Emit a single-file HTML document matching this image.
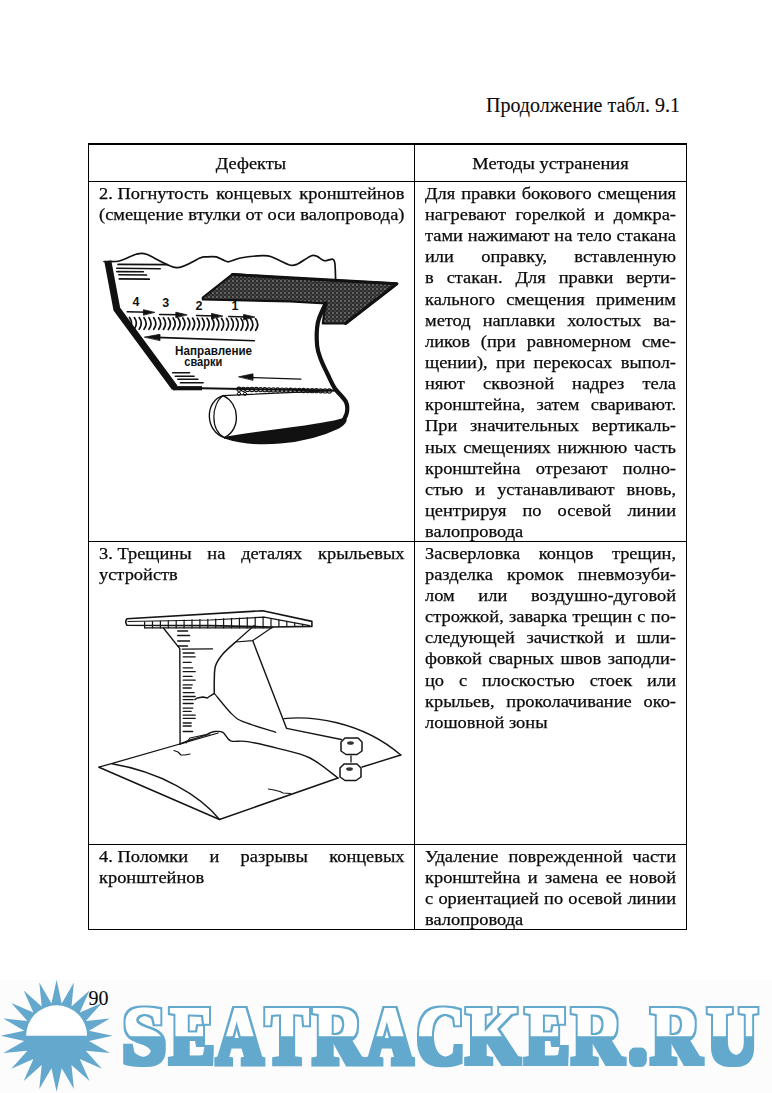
<!DOCTYPE html>
<html><head><meta charset="utf-8"><style>
html,body{margin:0;padding:0;background:#fff;}
#pg{position:relative;width:772px;height:1093px;overflow:hidden;background:#fff;font-family:"Liberation Serif",serif;color:#0a0a0a;-webkit-text-stroke:0.25px #0a0a0a;}
.t{position:absolute;font-size:17.0px;line-height:21px;height:21px;white-space:nowrap;transform:scaleX(1.0824);transform-origin:0 0;}
.u{transform:none;-webkit-text-stroke:0.1px #0a0a0a;}
.j{text-align:justify;text-align-last:justify;}
.l{text-align:left;}
.ib{display:inline-block;white-space:pre;}
.h{position:absolute;background:#000;}
svg{position:absolute;left:0;top:0;}
</style></head><body><div id="pg">
<div class="t u" style="font-size:20px;left:486px;top:95.00px;">Продолжение табл. 9.1</div>
<div class="h" style="left:88px;top:143px;width:599px;height:1.6px"></div>
<div class="h" style="left:88px;top:180.5px;width:599px;height:1.3px"></div>
<div class="h" style="left:88px;top:540.5px;width:599px;height:1.3px"></div>
<div class="h" style="left:88px;top:843.5px;width:599px;height:1.3px"></div>
<div class="h" style="left:88px;top:928.8px;width:599px;height:1.4px"></div>
<div class="h" style="left:87.6px;top:143px;width:1.5px;height:787px"></div>
<div class="h" style="left:414px;top:143px;width:1.4px;height:787px"></div>
<div class="h" style="left:685.6px;top:143px;width:1.5px;height:787px"></div>
<div class="t" style="left:88px;width:301.20px;text-align:center;top:152.50px">Дефекты</div>
<div class="t" style="left:415px;width:250.38px;text-align:center;top:152.50px">Методы устранения</div>
<div class="t j" style="left:98.5px;top:182.80px;width:282.26px"><span class="ib">2. Погнутость</span> концевых кронштейнов</div>
<div class="t j" style="left:98.5px;top:203.95px;width:282.26px">(смещение втулки от оси валопровода)</div>
<div class="t j" style="left:425px;top:182.80px;width:231.90px">Для правки бокового смещения</div>
<div class="t j" style="left:425px;top:203.95px;width:231.90px">нагревают горелкой и домкра-</div>
<div class="t j" style="left:425px;top:225.10px;width:231.90px">тами нажимают на тело стакана</div>
<div class="t j" style="left:425px;top:246.25px;width:231.90px">или оправку, вставленную</div>
<div class="t j" style="left:425px;top:267.40px;width:231.90px">в стакан. Для правки верти-</div>
<div class="t j" style="left:425px;top:288.55px;width:231.90px">кального смещения применим</div>
<div class="t j" style="left:425px;top:309.70px;width:231.90px">метод наплавки холостых ва-</div>
<div class="t j" style="left:425px;top:330.85px;width:231.90px">ликов (при равномерном сме-</div>
<div class="t j" style="left:425px;top:352.00px;width:231.90px">щении), при перекосах выпол-</div>
<div class="t j" style="left:425px;top:373.15px;width:231.90px">няют сквозной надрез тела</div>
<div class="t j" style="left:425px;top:394.30px;width:231.90px">кронштейна, затем сваривают.</div>
<div class="t j" style="left:425px;top:415.45px;width:231.90px">При значительных вертикаль-</div>
<div class="t j" style="left:425px;top:436.60px;width:231.90px">ных смещениях нижнюю часть</div>
<div class="t j" style="left:425px;top:457.75px;width:231.90px">кронштейна отрезают полно-</div>
<div class="t j" style="left:425px;top:478.90px;width:231.90px">стью и устанавливают вновь,</div>
<div class="t j" style="left:425px;top:500.05px;width:231.90px">центрируя по осевой линии</div>
<div class="t l" style="left:425px;top:521.20px;width:231.90px">валопровода</div>
<div class="t j" style="left:98.5px;top:542.70px;width:282.26px"><span class="ib">3. Трещины</span> на деталях крыльевых</div>
<div class="t l" style="left:98.5px;top:563.85px;width:282.26px">устройств</div>
<div class="t j" style="left:425px;top:542.70px;width:231.90px">Засверловка концов трещин,</div>
<div class="t j" style="left:425px;top:563.85px;width:231.90px">разделка кромок пневмозуби-</div>
<div class="t j" style="left:425px;top:585.00px;width:231.90px">лом или воздушно-дуговой</div>
<div class="t j" style="left:425px;top:606.15px;width:231.90px">строжкой, заварка трещин с по-</div>
<div class="t j" style="left:425px;top:627.30px;width:231.90px">следующей зачисткой и шли-</div>
<div class="t j" style="left:425px;top:648.45px;width:231.90px">фовкой сварных швов заподли-</div>
<div class="t j" style="left:425px;top:669.60px;width:231.90px">цо с плоскостью стоек или</div>
<div class="t j" style="left:425px;top:690.75px;width:231.90px">крыльев, проколачивание око-</div>
<div class="t l" style="left:425px;top:711.90px;width:231.90px">лошовной зоны</div>
<div class="t j" style="left:98.5px;top:845.80px;width:282.26px"><span class="ib">4. Поломки</span> и разрывы концевых</div>
<div class="t l" style="left:98.5px;top:866.75px;width:282.26px">кронштейнов</div>
<div class="t j" style="left:425px;top:845.80px;width:231.90px">Удаление поврежденной части</div>
<div class="t j" style="left:425px;top:866.75px;width:231.90px">кронштейна и замена ее новой</div>
<div class="t j" style="left:425px;top:887.70px;width:231.90px">с ориентацией по осевой линии</div>
<div class="t l" style="left:425px;top:908.65px;width:231.90px">валопровода</div>
<svg width="772" height="1093" viewBox="0 0 772 1093" style="position:absolute;left:0;top:0">
<defs><pattern id="hp" width="4" height="4" patternUnits="userSpaceOnUse"><rect width="4" height="4" fill="#2c2c2c"/><circle cx="1" cy="1" r="0.8" fill="#aaa"/><circle cx="3" cy="3" r="0.6" fill="#888"/></pattern></defs>
<g fill="none" stroke="#111" stroke-linecap="round" stroke-linejoin="round">
<path d="M104,261.5 C106.1,261.4 115.1,262.0 119.4,261 C123.7,260.0 132.7,255.2 136.3,254.3 C139.9,253.4 141.3,252.5 146.6,254.3 C151.9,256.1 169.3,267.2 176.4,267.7 C183.5,268.2 196.1,259.4 200,258 C203.9,256.6 203.2,257.0 205.4,256.9 C207.6,256.8 213.4,256.2 216.4,256.9 C219.4,257.6 224.8,261.7 228,261.8 C231.2,261.9 235.7,258.8 240.3,258 C244.9,257.2 258.3,255.8 262.4,255.6 C266.5,255.4 267.8,255.4 271.4,256.7 C275.0,258.0 286.2,264.0 289.6,265 C293.0,266.0 294.2,265.4 297.1,264.2 C300.0,263.0 308.7,256.7 311.4,255.7 C314.1,254.7 315.4,255.7 317.1,256.4 C318.8,257.1 322.1,260.3 324.2,260.7 C326.3,261.1 331.3,258.8 332.7,259.2 C334.1,259.6 334.5,260.8 334.9,263.5 C335.3,266.2 335.5,277.1 335.6,279.2" stroke-width="1.7"/>
<path d="M107.8,261 L116.8,309 L174.6,387.5" stroke-width="7" stroke-linecap="butt" stroke-linejoin="miter"/><path d="M173,388.2 L202,388.2" stroke-width="4.2" stroke-linecap="butt"/><circle cx="174.2" cy="387.6" r="2.6" fill="#111" stroke="none"/>
<line x1="118.1" y1="264.4" x2="167.4" y2="264.6" stroke-width="1.8"/>
<line x1="116.8" y1="268.3" x2="160.2" y2="268.8" stroke-width="1.6"/>
<line x1="116.8" y1="271.6" x2="143.4" y2="271.8" stroke-width="1.6"/>
<line x1="118.8" y1="274.8" x2="146.6" y2="275" stroke-width="1.6"/>
<line x1="119.4" y1="278.9" x2="149.2" y2="279.2" stroke-width="1.8"/>
<line x1="172.7" y1="372.8" x2="189.5" y2="372.8" stroke-width="1.6"/>
<line x1="175.3" y1="376.2" x2="194" y2="376.2" stroke-width="1.6"/>
<line x1="177.8" y1="379.3" x2="197.9" y2="379.3" stroke-width="1.6"/>
<line x1="180.4" y1="382.7" x2="203.1" y2="382.7" stroke-width="1.6"/>
<line x1="127.2" y1="311.8" x2="148.4" y2="312.3" stroke-width="1.5"/>
<path d="M154.4,312.3 L143.4,309.7 L143.4,314.90000000000003 Z" fill="#111" stroke-width="0.8"/>
<line x1="159.6" y1="314.4" x2="180.8" y2="314.8" stroke-width="1.5"/>
<path d="M186.8,314.8 L175.8,312.2 L175.8,317.40000000000003 Z" fill="#111" stroke-width="0.8"/>
<line x1="196.5" y1="315.5" x2="216.5" y2="316" stroke-width="1.5"/>
<path d="M222.5,316 L211.5,313.4 L211.5,318.6 Z" fill="#111" stroke-width="0.8"/>
<line x1="228.7" y1="316.5" x2="248.6" y2="317" stroke-width="1.5"/>
<path d="M254.6,317 L243.6,314.4 L243.6,319.6 Z" fill="#111" stroke-width="0.8"/>
<path d="M129.5,317.5 Q133.7,323.3 129.5,329.1" stroke-width="1.7"/>
<path d="M134.3,317.6 Q138.5,323.4 134.3,329.2" stroke-width="1.7"/>
<path d="M139.2,317.6 Q143.4,323.4 139.2,329.2" stroke-width="1.7"/>
<path d="M144.0,317.7 Q148.2,323.5 144.0,329.3" stroke-width="1.7"/>
<path d="M148.9,317.7 Q153.1,323.5 148.9,329.3" stroke-width="1.7"/>
<path d="M153.7,317.7 Q157.9,323.5 153.7,329.3" stroke-width="1.7"/>
<path d="M158.6,317.8 Q162.8,323.6 158.6,329.4" stroke-width="1.7"/>
<path d="M163.4,317.8 Q167.6,323.6 163.4,329.4" stroke-width="1.7"/>
<path d="M168.3,317.9 Q172.5,323.7 168.3,329.5" stroke-width="1.7"/>
<path d="M173.1,317.9 Q177.3,323.7 173.1,329.5" stroke-width="1.7"/>
<path d="M178.0,318.0 Q182.2,323.8 178.0,329.6" stroke-width="1.7"/>
<path d="M182.8,318.0 Q187.0,323.8 182.8,329.6" stroke-width="1.7"/>
<path d="M187.7,318.1 Q191.9,323.9 187.7,329.7" stroke-width="1.7"/>
<path d="M192.5,318.1 Q196.7,323.9 192.5,329.7" stroke-width="1.7"/>
<path d="M197.4,318.2 Q201.6,324.0 197.4,329.8" stroke-width="1.7"/>
<path d="M202.2,318.2 Q206.4,324.0 202.2,329.8" stroke-width="1.7"/>
<path d="M207.1,318.3 Q211.3,324.1 207.1,329.9" stroke-width="1.7"/>
<path d="M211.9,318.3 Q216.1,324.1 211.9,329.9" stroke-width="1.7"/>
<path d="M216.8,318.4 Q221.0,324.2 216.8,330.0" stroke-width="1.7"/>
<path d="M221.6,318.4 Q225.8,324.2 221.6,330.0" stroke-width="1.7"/>
<path d="M226.5,318.5 Q230.7,324.3 226.5,330.1" stroke-width="1.7"/>
<path d="M231.3,318.5 Q235.5,324.3 231.3,330.1" stroke-width="1.7"/>
<path d="M236.2,318.6 Q240.4,324.4 236.2,330.2" stroke-width="1.7"/>
<path d="M241.0,318.6 Q245.2,324.4 241.0,330.2" stroke-width="1.7"/>
<path d="M245.9,318.7 Q250.1,324.5 245.9,330.3" stroke-width="1.7"/>
<path d="M250.7,318.7 Q254.9,324.5 250.7,330.3" stroke-width="1.7"/>
<path d="M255.6,318.8 Q259.8,324.6 255.6,330.4" stroke-width="1.7"/>
<line x1="156" y1="337.4" x2="254.4" y2="340.7" stroke-width="1.6"/>
<path d="M144.7,337.1 L160,334.3 L160,340.3 Z" fill="#111" stroke-width="0.8"/>
<line x1="250" y1="377.5" x2="300.9" y2="379.2" stroke-width="1.3"/>
<path d="M238.9,376.8 L253,373.8 L253,380 Z" fill="#111" stroke-width="0.8"/>
<path d="M202,388.2 L334.6,390.6" stroke-width="2"/>
<circle cx="239.0" cy="389.2" r="2.1" stroke-width="1.1"/>
<circle cx="243.3" cy="389.3" r="2.1" stroke-width="1.1"/>
<circle cx="247.6" cy="389.4" r="2.1" stroke-width="1.1"/>
<circle cx="251.9" cy="389.5" r="2.1" stroke-width="1.1"/>
<circle cx="256.2" cy="389.5" r="2.1" stroke-width="1.1"/>
<circle cx="260.5" cy="389.6" r="2.1" stroke-width="1.1"/>
<circle cx="264.8" cy="389.7" r="2.1" stroke-width="1.1"/>
<circle cx="269.1" cy="389.8" r="2.1" stroke-width="1.1"/>
<circle cx="273.4" cy="389.9" r="2.1" stroke-width="1.1"/>
<circle cx="277.7" cy="390.0" r="2.1" stroke-width="1.1"/>
<circle cx="282.0" cy="390.1" r="2.1" stroke-width="1.1"/>
<circle cx="286.3" cy="390.1" r="2.1" stroke-width="1.1"/>
<circle cx="290.6" cy="390.2" r="2.1" stroke-width="1.1"/>
<circle cx="294.9" cy="390.3" r="2.1" stroke-width="1.1"/>
<circle cx="299.2" cy="390.4" r="2.1" stroke-width="1.1"/>
<circle cx="303.5" cy="390.5" r="2.1" stroke-width="1.1"/>
<circle cx="307.8" cy="390.6" r="2.1" stroke-width="1.1"/>
<circle cx="312.1" cy="390.7" r="2.1" stroke-width="1.1"/>
<circle cx="316.4" cy="390.7" r="2.1" stroke-width="1.1"/>
<circle cx="320.7" cy="390.8" r="2.1" stroke-width="1.1"/>
<circle cx="325.0" cy="390.9" r="2.1" stroke-width="1.1"/>
<circle cx="329.3" cy="391.0" r="2.1" stroke-width="1.1"/>
<circle cx="239" cy="393.8" r="1.6" stroke-width="1"/><circle cx="245" cy="393.9" r="1.6" stroke-width="1"/>
<polygon points="202.8,297.5 232.6,274.1 290,278.1 396.9,283.5 345.6,323.5 322.8,323.5 325.6,303.5 290,301.3 202.8,299.5" fill="url(#hp)" stroke-width="2.2"/>
<path d="M232.6,274.6 L396.9,283.8 L345.6,323.5" stroke-width="3"/>
<path d="M325.6,303.5 C324.3,306.7 319.2,315.8 317.8,322.8 C316.4,329.8 316.6,339.4 317.1,345.6 C317.7,351.8 319.4,355.4 321.1,360 C322.8,364.6 325.1,368.8 327.3,373.5 C329.6,378.2 331.5,383.2 334.6,388 C337.7,392.8 344.0,397.7 346,402 C348.0,406.3 347.5,410.3 346.5,414 C345.5,417.7 342.5,421.6 340,424 C337.5,426.4 332.9,427.7 331.5,428.4" stroke-width="4.2"/>
<path d="M224.6,437.7 C255,448 305,444 338,428 C346,423 348,418 343,419 C320,426 275,429 224.6,437.7 Z" fill="#111" stroke-width="1.8"/>
<path d="M223.3,395.6 L334,390.6" stroke-width="1.3"/>
<path d="M223.3,395.6 C204,401 205,432 224.6,437.7" stroke-width="1.4"/>
<path d="M223.3,395.6 C211,404 210,430 224.6,437.7" stroke-width="1.2"/>
<path d="M223.3,395.6 C240,404 241,428 224.6,437.7" stroke-width="1.4"/>
</g>
<g font-family="Liberation Sans" font-weight="bold" font-size="12.5" fill="#111">
<text x="132.4" y="306">4</text>
<text x="162.2" y="306.5">3</text>
<text x="195.5" y="309.8">2</text>
<text x="231.5" y="310.4">1</text>
<text x="175.1" y="354.6" textLength="77" lengthAdjust="spacingAndGlyphs">Направление</text>
<text x="184.3" y="366.2" textLength="38" lengthAdjust="spacingAndGlyphs">сварки</text>
</g>
</svg>
<svg width="772" height="1093" viewBox="0 0 772 1093" style="position:absolute;left:0;top:0">
<g fill="none" stroke="#151515" stroke-linecap="round" stroke-linejoin="round" stroke-width="1.3">
<path d="M127,618.8 L262.7,610.7 L311.9,621.4 L311.9,626.4 L272.7,627 L210,625.6 L127,625.3 Q124.5,622 127,618.8 Z" stroke-width="1.6"/>
<path d="M128,621.5 L210,620 L264.1,617.1 L309.7,625.6" stroke-width="1.2"/>
<path d="M144.6,627.8 L272,627.8" stroke-width="1.3"/>
<line x1="144.6" y1="621.8" x2="144.6" y2="627.8" stroke-width="1.2"/>
<line x1="152.5" y1="621.5" x2="152.5" y2="627.8" stroke-width="1.2"/>
<line x1="160.4" y1="621.2" x2="160.4" y2="627.8" stroke-width="1.2"/>
<line x1="168.3" y1="620.9" x2="168.3" y2="627.8" stroke-width="1.2"/>
<line x1="176.2" y1="620.5" x2="176.2" y2="627.8" stroke-width="1.2"/>
<line x1="184.1" y1="620.2" x2="184.1" y2="627.8" stroke-width="1.2"/>
<line x1="192.0" y1="619.9" x2="192.0" y2="627.8" stroke-width="1.2"/>
<line x1="199.9" y1="619.6" x2="199.9" y2="627.8" stroke-width="1.2"/>
<line x1="207.8" y1="619.3" x2="207.8" y2="627.8" stroke-width="1.2"/>
<line x1="215.7" y1="619.0" x2="215.7" y2="627.8" stroke-width="1.2"/>
<line x1="223.6" y1="618.6" x2="223.6" y2="627.8" stroke-width="1.2"/>
<line x1="231.5" y1="618.3" x2="231.5" y2="627.8" stroke-width="1.2"/>
<line x1="239.4" y1="618.0" x2="239.4" y2="627.8" stroke-width="1.2"/>
<line x1="247.3" y1="617.7" x2="247.3" y2="627.8" stroke-width="1.2"/>
<line x1="255.2" y1="617.4" x2="255.2" y2="627.8" stroke-width="1.2"/>
<line x1="263.1" y1="617.1" x2="263.1" y2="627.8" stroke-width="1.2"/>
<line x1="271.0" y1="618.8" x2="271.0" y2="626.5" stroke-width="1.2"/>
<line x1="278.9" y1="620.2" x2="278.9" y2="626.5" stroke-width="1.2"/>
<line x1="286.8" y1="621.6" x2="286.8" y2="626.5" stroke-width="1.2"/>
<line x1="294.7" y1="623.0" x2="294.7" y2="626.5" stroke-width="1.2"/>
<line x1="302.6" y1="624.4" x2="302.6" y2="626.5" stroke-width="1.2"/>
<path d="M163.4,628 L179.8,648.6 L180.1,744" stroke-width="1.4"/>
<line x1="177.6" y1="631" x2="187.6" y2="631" stroke-width="1.3"/>
<line x1="177.6" y1="635.5" x2="189.6" y2="635.5" stroke-width="1.3"/>
<line x1="177.6" y1="641" x2="189.6" y2="641" stroke-width="1.3"/>
<line x1="177.6" y1="646" x2="187.6" y2="646" stroke-width="1.3"/>
<line x1="183.2" y1="653" x2="194.2" y2="653" stroke-width="1.3"/>
<line x1="183.2" y1="656.8" x2="195.2" y2="656.8" stroke-width="1.3"/>
<line x1="183.2" y1="662.3" x2="191.2" y2="662.3" stroke-width="1.3"/>
<line x1="183.2" y1="667.8" x2="192.7" y2="667.8" stroke-width="1.3"/>
<line x1="183.2" y1="671.7" x2="195.2" y2="671.7" stroke-width="1.3"/>
<line x1="183.2" y1="676.3" x2="192.2" y2="676.3" stroke-width="1.3"/>
<line x1="183.2" y1="680.2" x2="195.2" y2="680.2" stroke-width="1.3"/>
<line x1="183.2" y1="684.9" x2="192.2" y2="684.9" stroke-width="1.3"/>
<line x1="183.2" y1="688" x2="191.2" y2="688" stroke-width="1.3"/>
<line x1="183.2" y1="692.6" x2="194.2" y2="692.6" stroke-width="1.3"/>
<line x1="183.2" y1="696.5" x2="195.2" y2="696.5" stroke-width="1.3"/>
<line x1="183.2" y1="699.6" x2="193.2" y2="699.6" stroke-width="1.3"/>
<line x1="183.2" y1="703.5" x2="193.2" y2="703.5" stroke-width="1.3"/>
<line x1="183.2" y1="708.2" x2="192.7" y2="708.2" stroke-width="1.3"/>
<line x1="183.2" y1="711.3" x2="191.2" y2="711.3" stroke-width="1.3"/>
<line x1="183.2" y1="715.2" x2="195.2" y2="715.2" stroke-width="1.3"/>
<line x1="183.2" y1="718.3" x2="195.2" y2="718.3" stroke-width="1.3"/>
<line x1="183.2" y1="723" x2="191.2" y2="723" stroke-width="1.3"/>
<line x1="183.2" y1="726" x2="191.2" y2="726" stroke-width="1.3"/>
<line x1="183.2" y1="731.5" x2="192.7" y2="731.5" stroke-width="1.3"/>
<line x1="182.2" y1="649.2" x2="212.6" y2="648.8" stroke-width="1.2"/>
<path d="M254.2,625.5 L235.6,642 L252.7,640.6 L272.7,627" stroke-width="1.2"/>
<path d="M235.6,642 C233.5,644.0 226.2,650.1 222.8,654.1 C219.5,658.1 216.9,661.7 215.5,666 C214.1,670.3 214.5,675.4 214.3,680 C214.1,684.6 214.3,691.2 214.3,693.4" stroke-width="1.5"/>
<path d="M214.3,693.4 L210.4,695.8 L207.3,698 L203,697 L197.2,698 L194.9,699.6" stroke-width="1.4"/>
<path d="M214.3,693.4 C217.3,696.9 227.1,709.6 232.2,714.4 C237.2,719.2 237.3,719.2 244.6,722.2 C251.8,725.2 270.5,730.6 275.7,732.3" stroke-width="1.3"/>
<path d="M252.7,640.6 L286.6,728.4" stroke-width="1.4"/>
<path d="M180,744 C182.0,743.2 188.2,740.8 192,739.5 C195.8,738.2 199.6,737.3 202.6,736.2 C205.6,735.1 207.9,733.8 210,733 C212.1,732.2 212.9,731.6 215.1,731.5 C217.2,731.4 220.3,730.8 222.9,732.3 C225.5,733.8 226.5,739.2 230.6,740.8 C234.7,742.3 239.7,740.3 247.7,741.6 C255.7,742.9 268.4,745.9 278.8,748.6 C289.2,751.3 300.1,753.1 310,758 C319.9,762.9 333.3,774.7 338,778" stroke-width="1.4"/>
<path d="M186,743 L190,738 L204,735 L210,735" stroke-width="1.2"/>
<path d="M99,767.2 L218.2,733" stroke-width="1.3"/>
<path d="M99,767.2 L219.5,819.5 L338,778" stroke-width="1.5"/>
<path d="M112,763.8 C160,772 200,795 219.5,819.5" stroke-width="1.4"/>
<path d="M174,750.5 L178,752 L181,755 L185,755 L190,754" stroke-width="1.2"/>
<path d="M268.6,789 L274,790 L280,791.5 L283,793 L290.6,793.5" stroke-width="1.2"/>
<path d="M284,718.6 C310,716 360,720 400.8,755" stroke-width="1.4"/>
<path d="M400.8,755 L362.2,767" stroke-width="1.4"/>
<path d="M286.6,728.4 L341.3,739.5" stroke-width="1.4"/>
<path d="M341.0,742.0 L345.0,738.0 L358.0,738.0 L362.0,742.0 L362.0,751.0 L357.0,754.5 L346.0,754.5 L341.0,751.0 Z" fill="#fff" stroke-width="1.5"/>
<ellipse cx="350.5" cy="743.0" rx="3.4" ry="1.8" fill="#333" stroke="none"/>
<path d="M340.0,768.0 L344.0,764.0 L357.0,764.0 L361.0,768.0 L361.0,777.0 L356.0,780.5 L345.0,780.5 L340.0,777.0 Z" fill="#fff" stroke-width="1.5"/>
<ellipse cx="349.5" cy="769.0" rx="3.4" ry="1.8" fill="#333" stroke="none"/>
<line x1="351" y1="756" x2="351" y2="762" stroke-width="1.3"/>
</g></svg>
<div class="t u" style="font-size:20px;left:88.5px;top:988.00px;z-index:5">90</div>
<div style="position:absolute;left:0;top:980px;width:772px;height:113px;background:#fcfcfc"></div>
<svg width="772" height="1093" viewBox="0 0 772 1093" style="position:absolute;left:0;top:0;z-index:3">
<defs><filter id="dA" x="-10%" y="-10%" width="120%" height="120%"><feMorphology operator="dilate" radius="3.0"/></filter>
<filter id="dB" x="-10%" y="-10%" width="120%" height="120%"><feMorphology operator="dilate" radius="1.3"/></filter>
<clipPath id="ctop"><rect x="0" y="900" width="772" height="136.20000000000005"/></clipPath>
</defs>
<polygon fill="#64a9cd" points="112.60,1035.80 89.00,1030.67 109.86,1018.50 85.83,1020.91 101.90,1002.88 79.79,1012.61 89.52,990.50 71.49,1006.57 73.90,982.54 61.73,1003.40 56.60,979.80 51.47,1003.40 39.30,982.54 41.71,1006.57 23.68,990.50 33.41,1012.61 11.30,1002.88 27.37,1020.91 3.34,1018.50 24.20,1030.67 0.60,1035.80 24.20,1040.93 3.34,1053.10 27.37,1050.69 11.30,1068.72 33.41,1058.99 23.68,1081.10 41.71,1065.03 39.30,1089.06 51.47,1068.20 56.60,1091.80 61.73,1068.20 73.90,1089.06 71.49,1065.03 89.52,1081.10 79.79,1058.99 101.90,1068.72 85.83,1050.69 109.86,1053.10 89.00,1040.93"/>
<path d="M26.1,1035.8 A30.5,30.5 0 0 1 87.1,1035.8 Z" fill="#fff"/>
<g fill="#64a9cd" filter="url(#dA)"><g font-family="Liberation Serif" font-weight="bold" font-size="84.0">
<text transform="translate(122.09,1063.00) scale(0.9446,0.9921)">S</text>
<text transform="translate(169.67,1063.00) scale(0.7923,0.9921)">E</text>
<text transform="translate(216.86,1063.00) scale(0.7593,0.9921)">A</text>
<text transform="translate(265.25,1063.00) scale(0.7818,0.9921)">T</text>
<text transform="translate(312.81,1063.00) scale(0.8348,0.9921)">R</text>
<text transform="translate(367.17,1063.00) scale(0.7474,0.9921)">A</text>
<text transform="translate(416.74,1063.00) scale(0.7910,0.9921)">C</text>
<text transform="translate(465.92,1063.00) scale(0.8248,0.9921)">K</text>
<text transform="translate(525.07,1063.00) scale(0.7883,0.9921)">E</text>
<text transform="translate(571.59,1063.00) scale(0.8499,0.9921)">R</text>
<text transform="translate(628.78,1063.00) scale(0.8725,0.9921)">.</text>
<text transform="translate(650.82,1063.00) scale(0.8298,0.9921)">R</text>
<text transform="translate(707.03,1063.00) scale(0.8427,0.9921)">U</text>
</g></g>
<g clip-path="url(#ctop)"><g fill="#fff" filter="url(#dB)"><g font-family="Liberation Serif" font-weight="bold" font-size="84.0">
<text transform="translate(122.09,1063.00) scale(0.9446,0.9921)">S</text>
<text transform="translate(169.67,1063.00) scale(0.7923,0.9921)">E</text>
<text transform="translate(216.86,1063.00) scale(0.7593,0.9921)">A</text>
<text transform="translate(265.25,1063.00) scale(0.7818,0.9921)">T</text>
<text transform="translate(312.81,1063.00) scale(0.8348,0.9921)">R</text>
<text transform="translate(367.17,1063.00) scale(0.7474,0.9921)">A</text>
<text transform="translate(416.74,1063.00) scale(0.7910,0.9921)">C</text>
<text transform="translate(465.92,1063.00) scale(0.8248,0.9921)">K</text>
<text transform="translate(525.07,1063.00) scale(0.7883,0.9921)">E</text>
<text transform="translate(571.59,1063.00) scale(0.8499,0.9921)">R</text>
<text transform="translate(628.78,1063.00) scale(0.8725,0.9921)">.</text>
<text transform="translate(650.82,1063.00) scale(0.8298,0.9921)">R</text>
<text transform="translate(707.03,1063.00) scale(0.8427,0.9921)">U</text>
</g></g></g>
</svg>
</div></body></html>
